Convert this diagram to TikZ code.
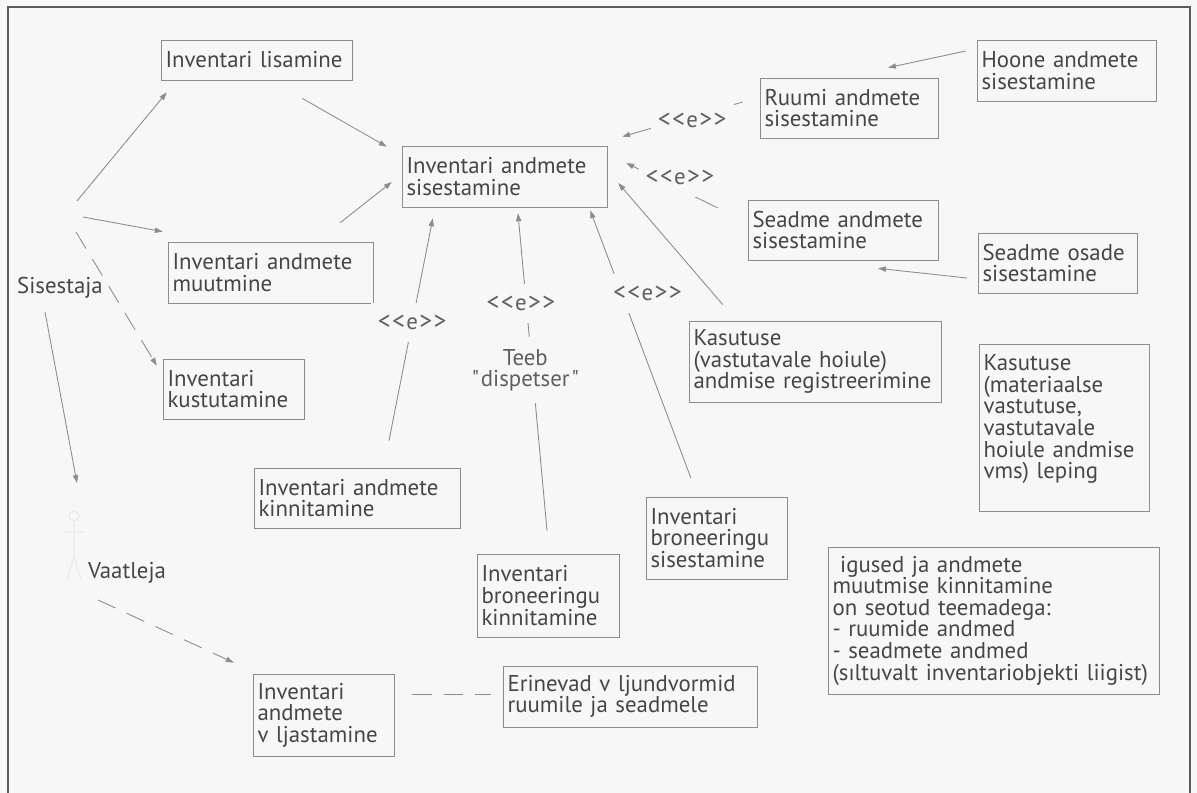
\documentclass[tikz,border=0pt]{standalone}
\usepackage{fontspec}
\setmainfont{PT Sans}
\usetikzlibrary{positioning}
\usetikzlibrary{arrows.meta}

\definecolor{bg}{RGB}{247,247,247}
\definecolor{txtgray}{RGB}{70,70,70}
\definecolor{lblgray}{RGB}{95,95,95}
\definecolor{boxgray}{RGB}{140,140,140}
\definecolor{linegray}{RGB}{140,140,140}
\definecolor{framegray}{RGB}{90,90,90}
\definecolor{ghost}{RGB}{236,236,236}

\newcommand{\ekl}{{\fontsize{14.5}{12}\selectfont{<}\kern0.8pt{<}}\kern0.8pt e\kern0.8pt{\fontsize{14.5}{12}\selectfont{>}\kern0.8pt{>}}}

\begin{document}
\begin{tikzpicture}
  [x=0.02cm, y=-0.02cm,
   every node/.style={font=\fontsize{13}{12.3}\selectfont, text=txtgray},
   uc/.style={draw=boxgray, rectangle, align=left, inner xsep=2.5pt, inner ysep=2pt},
   conn/.style={draw=linegray, line width=0.5pt, -{Triangle[length=4.5pt,width=3pt]}},
   udash/.style={dash pattern=on 11pt off 7pt},
   ext/.style={fill=bg, inner xsep=4pt, inner ysep=7pt, text=lblgray, align=center}]
  \fill[bg] (0,0) rectangle (1197,793);
  \useasboundingbox (0,0) rectangle (1197,793);
  \draw[framegray, line width=0.8pt] (8,793) -- (8,7) -- (1190,7) -- (1190,793);

  % kasutusjuhud
  \node[uc, text width=3.64cm, minimum height=0.80cm] (lis) at (256.5,60) {Inventari lisamine};
  \node[uc, text width=3.92cm, minimum height=1.22cm] (sis) at (504.5,176.5) {Inventari andmete\\sisestamine};
  \node[uc, text width=3.92cm, minimum height=1.22cm] (muut) at (270.5,272.5) {Inventari andmete\\muutmine};
  \node[uc, text width=2.64cm, minimum height=1.20cm] (kust) at (233.5,389) {Inventari\\kustutamine};
  \node[uc, text width=3.38cm, minimum height=1.20cm] (ruum) at (849,108) {Ruumi andmete\\sisestamine};
  \node[uc, text width=3.40cm, minimum height=1.22cm] (hoone) at (1066.5,70.5) {Hoone andmete\\sisestamine};
  \node[uc, text width=3.62cm, minimum height=1.20cm] (seade) at (843,230) {Seadme andmete\\sisestamine};
  \node[uc, text width=3.00cm, minimum height=1.20cm] (osad) at (1057.5,263) {Seadme osade\\sisestamine};
  \node[uc, text width=4.86cm, minimum height=1.62cm] (kasreg) at (815,361.5) {Kasutuse\\(vastutavale hoiule)\\andmise registreerimine};
  \node[uc, text width=3.22cm, minimum height=3.34cm] (leping) at (1064,427.5) {Kasutuse\\(materiaalse\\vastutuse,\\vastutavale\\hoiule andmise\\vms) leping\\\mbox{}};
  \node[uc, text width=3.94cm, minimum height=1.20cm] (kinn) at (357,498) {Inventari andmete\\kinnitamine};
  \node[uc, text width=2.66cm, minimum height=1.66cm] (bronk) at (548,595.5) {Inventari\\broneeringu\\kinnitamine};
  \node[uc, text width=2.64cm, minimum height=1.64cm] (brons) at (716.5,538) {Inventari\\broneeringu\\sisestamine};
  \node[uc, text width=6.44cm, minimum height=2.94cm] (igused) at (993.5,620.5) {\ igused ja andmete\\muutmise kinnitamine\\on seotud teemadega:\\- ruumide andmed\\- seadmete andmed\\(sıltuvalt inventariobjekti liigist)};
  \node[uc, text width=2.64cm, minimum height=1.64cm] (valj) at (323.5,715) {Inventari\\andmete\\v ljastamine};
  \node[uc, text width=4.90cm, minimum height=1.22cm] (erin) at (630,696.5) {Erinevad v ljundvormid\\ruumile ja seadmele};

  % tegutsejad
  \node (sisestaja) at (60,288) {Sisestaja};
  \coordinate (sisfig) at (68,212);
  \node (vaatleja) at (127,573) {Vaatleja};
  \coordinate (vfig) at (74,540);
  \draw[ghost, line width=0.8pt] (74,516) circle (5) (74,521) -- (74,556) (64,532) -- (84,532)
    (67,580) -- (74,556) -- (81,580);

  % seosed
  \draw[conn] ([shift={(9,-11)}]sisfig) -- ([shift={(6,12)}]lis.south west);
  \draw[conn] ([shift={(15,5)}]sisfig) -- ([shift={(-5,-10)}]muut.north west);
  \draw[conn, udash] ([shift={(8,20)}]sisfig) -- ([shift={(-6,7)}]kust.north west);
  \draw[conn] ([shift={(-15,24)}]sisestaja.center) -- ([shift={(3,-57)}]vfig);
  \draw[conn, udash] ([shift={(-29,27)}]vaatleja.center) -- ([shift={(-19,-11)}]valj.north west);

  \draw[conn] ([shift={(-50,18)}]lis.south east) -- ([shift={(-15,1)}]sis.north west);
  \draw[conn] ([shift={(-33,-19)}]muut.north east) -- ([shift={(-10,5.5)}]sis.west);
  \draw[conn] ([shift={(32,-27)}]kinn.north) -- node[ext, pos=0.53] {\ekl} ([shift={(31,11)}]sis.south west);
  \draw[conn] ([shift={(-1,-23)}]bronk.north) -- node[ext, pos=0.506, xshift=-4pt] {Teeb\\\textquotedbl\kern1pt dispetser\kern1pt\textquotedbl}
    node[ext, pos=0.717, xshift=-3pt] {\ekl} ([shift={(13.5,6)}]sis.south);
  \draw[conn] ([shift={(45,-19)}]brons.north west) -- node[ext, pos=0.69, xshift=14.8pt] {\ekl} ([shift={(-17,3)}]sis.south east);
  \draw[conn] ([shift={(34,-16)}]kasreg.north west) -- ([shift={(11,6.5)}]sis.east);
  \draw[conn] ([shift={(-17,-6)}]ruum.west) -- node[ext, pos=0.42, yshift=-2pt] {\ekl} ([shift={(15,-9)}]sis.north east);
  \draw[conn] ([shift={(-30,-22)}]seade.west) -- node[ext, pos=0.413, yshift=7pt] {\ekl} ([shift={(19,-13.5)}]sis.east);
  \draw[conn] ([shift={(-11,-19.5)}]hoone.west) -- ([shift={(39,-10)}]ruum.north);
  \draw[conn] ([shift={(-11,15)}]osad.west) -- ([shift={(35,8)}]seade.south);
  \draw[linegray, line width=0.5pt, udash] ([shift={(18,-21)}]valj.east) -- ([shift={(-12,-2.5)}]erin.west);
\end{tikzpicture}
\end{document}
